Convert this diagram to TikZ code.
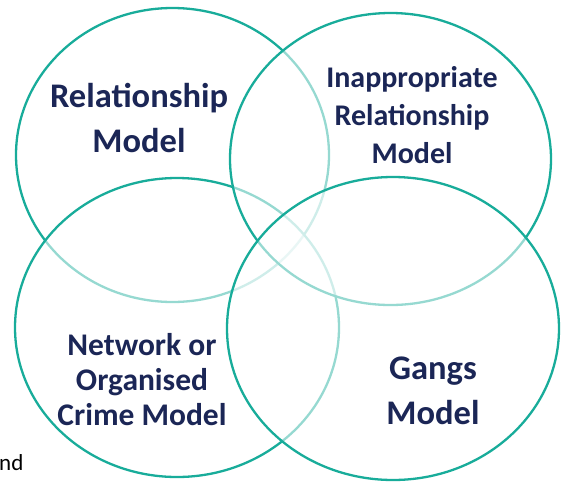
\documentclass[tikz,border=0pt]{standalone}
\usepackage{fontspec}
\setmainfont{Carlito}
\usetikzlibrary{shapes.geometric}
\definecolor{vennteal}{RGB}{24,172,154}
\definecolor{labelnavy}{RGB}{27,38,86}
\tikzstyle{venn} = [ellipse, draw=vennteal, line width=2.3pt, fill=white, fill opacity=0.55, inner sep=0pt]
\tikzstyle{model} = [align=center, text=labelnavy, inner sep=0pt]

\begin{document}
\begin{tikzpicture}[x=1pt,y=-1pt]
\useasboundingbox (0,0) rectangle (568,483);
% the four overlapping circles, later ones wash out the arcs below them
\node (relc) [venn, minimum width=313pt, minimum height=294pt] at (172.5,155) {};
\node (netc) [venn, minimum width=324pt, minimum height=299pt] at (177,327.5) {};
\node (inac) [venn, minimum width=321pt, minimum height=292pt] at (390.5,159) {};
\node (gngc) [venn, minimum width=332pt, minimum height=303pt] at (393,328.5) {};
% model names
\node (rel) [model, font=\fontsize{34.5}{45}\selectfont\bfseries] at (139,118) {Relationship\\Model};
\node (ina) [model, font=\fontsize{30}{38}\selectfont\bfseries] at (412,115) {Inappropriate\\Relationship\\Model};
\node (net) [model, font=\fontsize{31.5}{35}\selectfont\bfseries] at (142,380) {Network or\\Organised\\Crime Model};
\node (gng) [model, font=\fontsize{34.5}{45}\selectfont\bfseries] at (433,391) {Gangs\\Model};
\node (nd) [anchor=base west, inner sep=0pt, font=\fontsize{23}{28}\selectfont] at (-1,470) {nd};
\end{tikzpicture}
\end{document}
